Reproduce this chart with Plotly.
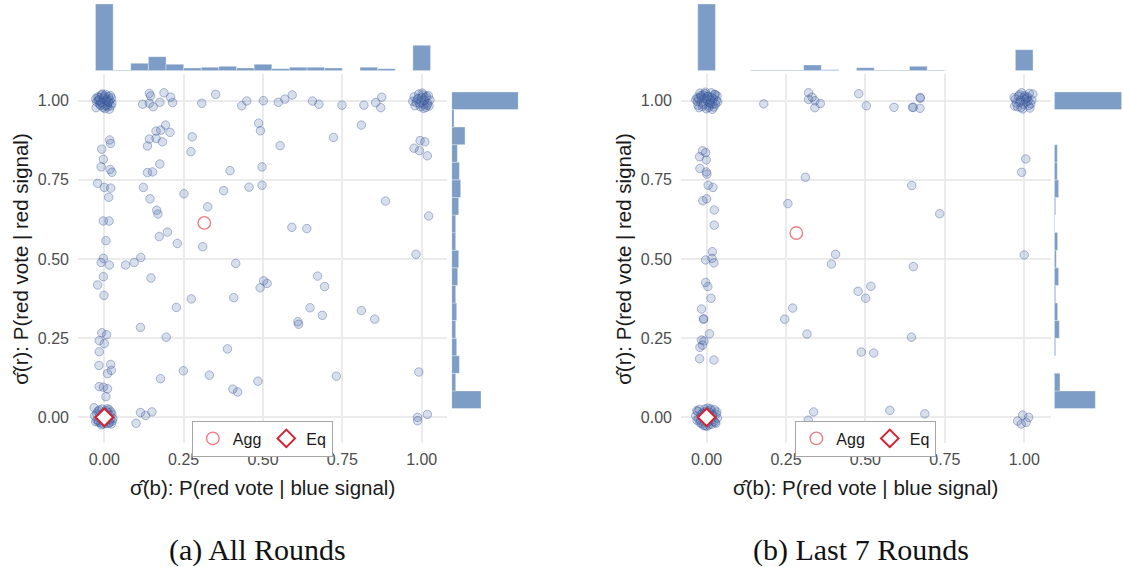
import plotly.graph_objects as go

W, H = 1123, 567

# ---------------- marginal histogram bins / counts ----------------
hist_bins = [0.0, 0.0556, 0.1111, 0.1667, 0.2222, 0.2778, 0.3333, 0.3889, 0.4444, 0.5,
             0.5556, 0.6111, 0.6667, 0.7222, 0.7778, 0.8333, 0.8889, 0.9444, 1.0]
side_bins = hist_bins[1:]

all_top_counts = [100, 1, 11, 21, 9.5, 4, 5, 6.5, 4, 9.5, 3, 5, 5, 4, 0, 5, 3, 0, 38]
all_side_counts = [44, 6, 11.5, 7.5, 6, 7.5, 6, 9, 10.5, 6, 6, 10.5, 13.5, 11.5, 8.5, 20, 3.5, 100]
last_top_counts = [100, 0, 0, 1, 1, 1, 8.5, 1.5, 0, 4.5, 1, 1, 6.5, 1, 0, 0, 0, 0, 31.5]
last_side_counts = [61.5, 8.5, 0, 2, 7.5, 5, 2, 6.5, 3, 5, 1, 2, 6.5, 4.5, 4.5, 0, 0, 101]

# ---------------- All rounds: scattered points ----------------
all_row_b = [0.121, 0.142, 0.146, 0.142, 0.154, 0.175, 0.188, 0.209, 0.215, 0.307, 0.351, 0.433,
             0.449, 0.501, 0.548, 0.569, 0.592, 0.656, 0.676, 0.749, 0.818, 0.855, 0.871, 0.874]
all_row_r = [0.989, 1.023, 1.015, 0.992, 0.981, 0.995, 1.025, 1.011, 0.994, 0.992, 1.020, 0.984,
             0.999, 1.000, 0.995, 1.005, 1.018, 0.999, 0.989, 0.986, 0.986, 0.994, 0.978, 1.011]
all_mid_b = [0.486, 0.492, 0.810, 0.163, 0.178, 0.207, 0.193, 0.142, 0.163, 0.183, 0.136, 0.277,
             0.554, 0.722, 0.017, 0.020, -0.008, -0.003, -0.010, 0.018, 0.024, 0.273, 0.175, 0.136,
             0.152, 0.396, 0.497, 0.976, 0.995, 1.010, 0.993, 1.018, -0.021, 0.000, 0.020, 0.014,
             0.123, 0.144, 0.251, 0.376, 0.456, 0.497, 0.886, 0.165, 0.169, 0.326, -0.003, 0.015,
             0.005, 0.173, 0.199, 0.230, 0.310, 0.591, 0.638, 1.022, 0.982, 0.115, -0.003]
all_mid_r = [0.929, 0.905, 0.923, 0.904, 0.907, 0.900, 0.923, 0.879, 0.881, 0.870, 0.857, 0.886,
             0.858, 0.884, 0.876, 0.865, 0.847, 0.815, 0.791, 0.783, 0.774, 0.839, 0.800, 0.773,
             0.775, 0.779, 0.791, 0.850, 0.874, 0.870, 0.842, 0.826, 0.739, 0.726, 0.724, 0.695,
             0.726, 0.690, 0.706, 0.716, 0.727, 0.733, 0.683, 0.654, 0.642, 0.665, 0.620, 0.620,
             0.558, 0.571, 0.585, 0.549, 0.539, 0.600, 0.596, 0.636, 0.515, 0.505, 0.502]
all_low_b = [-0.010, 0.016, 0.067, 0.094, 0.414, -0.021, -0.003, -0.001, 0.147, 0.227, 0.274, 0.408,
             0.491, 0.502, 0.513, 0.672, 0.694, 0.648, 0.687, 0.810, 0.852, 0.114, 0.195, 0.610,
             0.612, 0.388, -0.008, 0.007, -0.016, 0.000, -0.016, -0.017, 0.020, 0.022, 0.010, -0.016,
             -0.003, 0.010, 0.005, 0.249, 0.177, 0.331, 0.405, 0.420, 0.484, 0.731, 0.991,
             0.114, 0.130, 0.150, 0.100, 0.987, 0.987, 1.018]
all_low_r = [0.489, 0.481, 0.481, 0.489, 0.486, 0.418, 0.444, 0.385, 0.440, 0.347, 0.374, 0.378,
             0.409, 0.431, 0.423, 0.446, 0.413, 0.346, 0.322, 0.337, 0.310, 0.284, 0.253, 0.302,
             0.294, 0.216, 0.267, 0.261, 0.242, 0.233, 0.207, 0.164, 0.167, 0.148, 0.138, 0.097,
             0.095, 0.090, 0.065, 0.147, 0.122, 0.133, 0.089, 0.080, 0.114, 0.130, 0.143,
             0.015, 0.006, 0.017, -0.019, 0.000, -0.011, 0.009]
# dense clusters (all rounds)
all_c01_b = [-0.021, -0.012, 0.004, 0.015, -0.026, 0.008, -0.005, 0.019, -0.017, 0.011, 0.023, -0.009,
             0.002, -0.024, 0.013, -0.014, 0.006, 0.021, -0.002, -0.019, 0.016, 0.000, -0.011, 0.024,
             -0.027, 0.009, -0.007, 0.018, 0.003, -0.016, 0.012, -0.004]
all_c01_r = [1.012, 0.985, 1.020, 0.994, 0.978, 1.005, 0.991, 1.016, 1.003, 0.981, 1.008, 1.018,
             0.975, 0.996, 1.013, 0.989, 0.999, 0.984, 1.009, 1.001, 0.973, 1.015, 0.995, 0.992,
             1.006, 0.987, 1.021, 1.002, 0.983, 1.010, 0.997, 0.979]
all_c11_b = [0.985, 1.004, 1.019, 0.972, 0.996, 1.011, 1.026, 0.991, 1.007, 0.979, 1.015, 0.999,
             1.023, 0.988, 1.002, 1.013, 0.976, 0.994, 1.009, 1.021, 0.983, 1.017, 1.000, 1.006]
all_c11_r = [1.003, 1.018, 0.992, 0.998, 0.981, 1.010, 1.002, 1.021, 0.987, 0.984, 1.014, 0.995,
             0.983, 1.007, 1.024, 0.979, 1.012, 0.990, 1.001, 1.016, 0.994, 0.986, 1.009, 0.976]
all_c00_b = [-0.024, -0.011, 0.006, 0.019, -0.030, 0.010, -0.003, 0.024, -0.018, 0.014, -0.007, 0.001,
             -0.027, 0.021, -0.014, 0.008, 0.027, -0.020, 0.003, 0.016, -0.009, -0.032, 0.012, 0.025,
             -0.016, 0.005, -0.001, 0.018, -0.023, 0.009, -0.012, 0.022, -0.005, 0.015, -0.019, 0.002]
all_c00_r = [0.012, -0.018, 0.021, -0.006, 0.004, 0.015, -0.021, 0.009, -0.011, -0.019, 0.026, -0.002,
             -0.014, 0.017, 0.007, -0.009, -0.004, 0.019, 0.011, -0.016, -0.024, 0.030, 0.002, -0.012,
             0.023, -0.020, 0.014, 0.006, -0.008, 0.027, -0.003, -0.021, 0.010, 0.024, -0.015, -0.010]

# ---------------- Last 7 rounds ----------------
last_row_b = [0.180, 0.321, 0.321, 0.332, 0.341, 0.341, 0.358, 0.479, 0.503, 0.590, 0.648, 0.651,
              0.672, 0.673, 0.672]
last_row_r = [0.990, 1.025, 1.004, 1.011, 1.000, 0.978, 0.991, 1.022, 0.984, 0.979, 0.979, 0.979,
              1.010, 1.008, 0.976]
last_mid_b = [-0.013, -0.003, -0.022, -0.001, -0.021, -0.001, 0.001, 0.005, 0.020, -0.012, 0.000, 0.024,
              0.024, 0.018, -0.003, 1.005, 0.992, 0.311, 0.646, 0.256, 0.734, 0.406, 1.000, 0.023,
              0.017, -0.003, 0.004, 0.014, -0.016, -0.010, -0.009, 0.009, -0.016, -0.008, -0.013, -0.021,
              -0.022, 0.023, 0.393, 0.651, 0.477, 0.517, 0.501, 0.246, 0.271, 0.316, 0.645, 0.487, 0.526]
last_mid_r = [0.842, 0.836, 0.823, 0.813, 0.786, 0.775, 0.768, 0.733, 0.726, 0.684, 0.690, 0.655,
              0.607, 0.523, 0.497, 0.816, 0.774, 0.758, 0.732, 0.675, 0.643, 0.515, 0.513, 0.488,
              0.502, 0.426, 0.413, 0.376, 0.342, 0.310, 0.311, 0.264, 0.244, 0.241, 0.228, 0.221,
              0.185, 0.181, 0.484, 0.476, 0.398, 0.414, 0.376, 0.310, 0.345, 0.263, 0.253, 0.206, 0.203]
last_low_b = [0.337, 0.320, 0.577, 0.687, 0.979, 0.995, 0.991, 1.006, 1.014]
last_low_r = [0.017, -0.009, 0.022, 0.011, -0.012, 0.007, -0.021, -0.016, 0.000]
last_c01_b = [-0.030, -0.018, -0.005, 0.008, 0.021, 0.033, -0.024, -0.011, 0.002, 0.015, 0.028, -0.034,
              -0.016, -0.001, 0.012, 0.025, -0.027, -0.008, 0.005, 0.018, 0.031, -0.021, -0.013, 0.000,
              0.010, 0.023, -0.029, -0.004, 0.016, 0.035, -0.019, 0.007, 0.027, -0.010, 0.013, -0.025,
              0.020, 0.003]
last_c01_r = [1.010, 0.995, 1.022, 0.984, 1.006, 1.015, 0.978, 1.018, 0.998, 1.025, 0.989, 1.003,
              1.012, 0.975, 0.991, 1.020, 0.986, 1.008, 1.014, 0.973, 1.001, 1.024, 0.982, 1.005,
              0.993, 0.980, 0.997, 1.027, 1.011, 0.996, 1.016, 0.979, 1.019, 0.988, 1.002, 1.007,
              0.990, 1.013]
last_c11_b = [0.972, 0.985, 0.998, 1.011, 1.024, 0.979, 0.992, 1.005, 1.018, 0.968, 0.988, 1.001,
              1.014, 1.027, 0.975, 0.995, 1.008, 1.021, 0.982, 1.003, 1.016, 0.970, 0.990, 1.012,
              1.000, 0.986]
last_c11_r = [1.005, 1.019, 0.988, 1.012, 1.002, 0.981, 1.025, 0.996, 0.977, 1.010, 1.001, 1.016,
              0.985, 1.021, 0.993, 0.974, 1.008, 0.990, 1.014, 1.004, 1.023, 0.983, 0.979, 0.999,
              1.011, 0.995]
last_c00_b = [-0.031, -0.019, -0.006, 0.007, 0.020, 0.032, -0.025, -0.012, 0.001, 0.014, 0.027, -0.034,
              -0.015, 0.003, 0.017, 0.030, -0.028, -0.009, 0.010, 0.023, -0.021, -0.002, 0.012, 0.034,
              -0.017, 0.005, 0.025, -0.030, -0.007, 0.016, -0.023, 0.009, 0.029, -0.013, 0.019, -0.004]
last_c00_r = [0.021, -0.011, 0.026, -0.024, 0.008, 0.017, -0.005, 0.014, -0.028, 0.023, -0.016, 0.004,
              -0.020, 0.029, -0.008, 0.010, 0.018, -0.026, 0.001, -0.013, -0.017, 0.019, 0.027, -0.002,
              0.009, -0.015, 0.024, -0.009, 0.012, -0.022, 0.025, 0.016, -0.019, -0.001, 0.006, -0.027]

agg_all = (0.315, 0.614)
agg_last = (0.2825, 0.582)
eq_point = (0.0, 0.0)

tick_vals = [0, 0.25, 0.5, 0.75, 1.0]
tick_text = ["0.00", "0.25", "0.50", "0.75", "1.00"]

x_title = "σ\u0302(b): P(red vote | blue signal)"
y_title = "σ\u0302(r): P(red vote | red signal)"
captions = ["(a) All Rounds", "(b) Last 7 Rounds"]

# ---------------- styles ----------------
HIST_COLOR = "#7d9dc6"
PT_FILL = "rgba(72,104,168,0.22)"
PT_LINE = "rgba(45,75,145,0.36)"
GRID = "#ebebeb"
TICK_FONT = dict(family="Liberation Sans, Arial, sans-serif", size=16, color="#4d4d4d")
TITLE_FONT = dict(family="Liberation Sans, Arial, sans-serif", size=20.5, color="#1a1a1a")


def fx(px):
    return px / W


def fy(py):
    return 1 - py / H


panels = [
    dict(name="all", main_x=(78, 446.7), side_x=(451.7, 518.3), xr=[-0.0829, 1.0788],
         top=all_top_counts, side=all_side_counts, top_max=100, side_max=100,
         b=all_row_b + all_mid_b + all_low_b + all_c01_b + all_c11_b + all_c00_b,
         r=all_row_r + all_mid_r + all_low_r + all_c01_r + all_c11_r + all_c00_r,
         agg=agg_all, caption=captions[0], legend="legend"),
    dict(name="last", main_x=(681, 1050.7), side_x=(1054.3, 1121.7), xr=[-0.0806, 1.0834],
         top=last_top_counts, side=last_side_counts, top_max=100, side_max=101,
         b=last_row_b + last_mid_b + last_low_b + last_c01_b + last_c11_b + last_c00_b,
         r=last_row_r + last_mid_r + last_low_r + last_c01_r + last_c11_r + last_c00_r,
         agg=agg_last, caption=captions[1], legend="legend2"),
]

main_y = (74.3, 443.3)
top_y = (4.0, 70.7)
yr = [-0.0821, 1.0834]

fig = go.Figure()
layout = dict(width=W, height=H, margin=dict(l=0, r=0, t=0, b=0),
              paper_bgcolor="white", plot_bgcolor="white", showlegend=True, annotations=[])

for i, p in enumerate(panels):
    n = 3 * i
    ax_main, ax_top, ax_side = n + 1, n + 2, n + 3
    def nm(k):
        return "" if k == 1 else str(k)
    xd = [fx(p["main_x"][0]), fx(p["main_x"][1])]
    yd = [fy(main_y[1]), fy(main_y[0])]
    layout["xaxis" + nm(ax_main)] = dict(
        domain=xd, range=p["xr"], anchor="y" + nm(ax_main), tickvals=tick_vals, ticktext=tick_text,
        showgrid=True, gridcolor=GRID, gridwidth=1.8, zeroline=False, showline=False, ticks="",
        tickfont=TICK_FONT, ticklabelstandoff=5, fixedrange=True)
    layout["yaxis" + nm(ax_main)] = dict(
        domain=yd, range=yr, anchor="x" + nm(ax_main), tickvals=tick_vals, ticktext=tick_text,
        showgrid=True, gridcolor=GRID, gridwidth=1.8, zeroline=False, showline=False, ticks="",
        tickfont=TICK_FONT, ticklabelstandoff=8, fixedrange=True)
    layout["xaxis" + nm(ax_top)] = dict(domain=xd, range=p["xr"], anchor="y" + nm(ax_top), visible=False)
    layout["yaxis" + nm(ax_top)] = dict(domain=[fy(top_y[1]), fy(top_y[0])], range=[0, p["top_max"]],
                                          anchor="x" + nm(ax_top), visible=False)
    layout["xaxis" + nm(ax_side)] = dict(domain=[fx(p["side_x"][0]), fx(p["side_x"][1])],
                                           range=[0, p["side_max"]], anchor="y" + nm(ax_side), visible=False)
    layout["yaxis" + nm(ax_side)] = dict(domain=yd, range=yr, anchor="x" + nm(ax_side), visible=False)

    # marginal histograms
    fig.add_trace(go.Bar(x=hist_bins, y=p["top"], width=1 / 18, marker=dict(color=HIST_COLOR,
                         line=dict(color="rgba(255,255,255,0.55)", width=0.6)),
                         xaxis="x" + nm(ax_top), yaxis="y" + nm(ax_top), showlegend=False, hoverinfo="skip"))
    fig.add_trace(go.Bar(y=side_bins, x=p["side"], orientation="h", width=1 / 18,
                         marker=dict(color=HIST_COLOR, line=dict(color="rgba(255,255,255,0.55)", width=0.6)),
                         xaxis="x" + nm(ax_side), yaxis="y" + nm(ax_side), showlegend=False, hoverinfo="skip"))
    # scatter points
    fig.add_trace(go.Scatter(x=p["b"], y=p["r"], mode="markers",
                             marker=dict(size=8.5, color=PT_FILL, line=dict(color=PT_LINE, width=1)),
                             xaxis="x" + nm(ax_main), yaxis="y" + nm(ax_main), showlegend=False, hoverinfo="skip",
                             cliponaxis=False))
    # aggregate and equilibrium
    fig.add_trace(go.Scatter(x=[p["agg"][0]], y=[p["agg"][1]], mode="markers", name="Agg",
                             marker=dict(symbol="circle-open", size=12.5, color="rgba(236,110,120,0.9)",
                                         line=dict(width=1.4)),
                             xaxis="x" + nm(ax_main), yaxis="y" + nm(ax_main), legend=p["legend"]))
    fig.add_trace(go.Scatter(x=[eq_point[0]], y=[eq_point[1]], mode="markers", name="Eq",
                             marker=dict(symbol="diamond", size=13.5, color="white",
                                         line=dict(color="#d6202f", width=2)),
                             xaxis="x" + nm(ax_main), yaxis="y" + nm(ax_main), legend=p["legend"]))

    cx = (p["main_x"][0] + p["main_x"][1]) / 2
    layout[p["legend"]] = dict(x=fx(cx), xanchor="center", y=fy(420.5), yanchor="top", orientation="h",
                               bgcolor="white", bordercolor="#a6a6a6", borderwidth=1,
                               font=dict(family="Liberation Sans, Arial, sans-serif", size=16, color="#1a1a1a"),
                               itemwidth=30, itemclick=False, itemdoubleclick=False)
    layout["annotations"].append(dict(text=x_title, x=fx(cx), y=fy(487), xref="paper", yref="paper",
                                      showarrow=False, font=TITLE_FONT, xanchor="center", yanchor="middle"))
    layout["annotations"].append(dict(text=y_title, x=fx(p["main_x"][0] - 57), y=fy(258.8), xref="paper",
                                      yref="paper", showarrow=False, font=TITLE_FONT, textangle=-90,
                                      xanchor="center", yanchor="middle"))
    layout["annotations"].append(dict(text=p["caption"], x=fx(cx - 5), y=fy(550), xref="paper", yref="paper",
                                      showarrow=False, xanchor="center", yanchor="middle",
                                      font=dict(family="Liberation Serif, serif", size=30, color="#111111")))

fig.update_layout(**layout)
fig.write_html("out.html")
